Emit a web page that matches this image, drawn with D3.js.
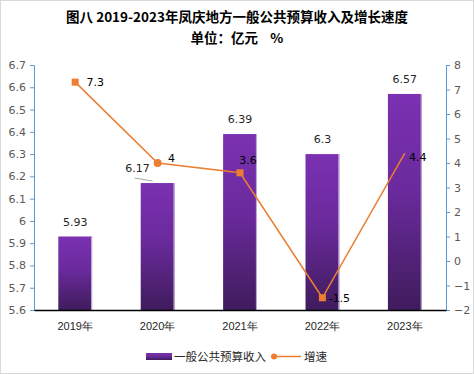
<!DOCTYPE html>
<html>
<head>
<meta charset="utf-8">
<script src="https://cdn.jsdelivr.net/npm/d3@7"></script>
<style>
  body { margin: 0; background: #fff; }
  svg { display: block; font-family: "Noto Sans CJK SC", "DejaVu Sans", sans-serif; }
</style>
</head>
<body>
<div id="chart"></div>
<script>
const years = ["2019年", "2020年", "2021年", "2022年", "2023年"];
const revenue = [5.93, 6.17, 6.39, 6.3, 6.57];
const growth = [7.3, 4, 3.6, -1.5, 4.4];
const leftTicks = [5.6, 5.7, 5.8, 5.9, 6, 6.1, 6.2, 6.3, 6.4, 6.5, 6.6, 6.7];
const rightTicks = [-2, -1, 0, 1, 2, 3, 4, 5, 6, 7, 8];
const markerShapes = ["square", "circle", "square", "square", null];

const W = 474, H = 374;
const margin = { top: 65, right: 28, bottom: 64, left: 34 };
const innerW = W - margin.left - margin.right;
const innerH = H - margin.top - margin.bottom;

const svg = d3.select("#chart").append("svg")
    .attr("width", W)
    .attr("height", H);

svg.append("rect")
    .attr("x", 0.5).attr("y", 0.5)
    .attr("width", W - 1).attr("height", H - 1)
    .attr("fill", "#fff")
    .attr("stroke", "#d9d9d9");

// title
svg.append("text")
    .attr("x", W / 2).attr("y", 22)
    .attr("text-anchor", "middle")
    .style("font-size", "13.5px").style("font-weight", "bold")
    .attr("fill", "#000")
    .text("图八 2019-2023年凤庆地方一般公共预算收入及增长速度");
svg.append("text")
    .attr("x", W / 2).attr("y", 43)
    .attr("text-anchor", "middle")
    .style("font-size", "13.5px").style("font-weight", "bold")
    .attr("fill", "#000")
    .attr("xml:space", "preserve")
    .text("单位：亿元    %");

const defs = svg.append("defs");
const grad = defs.append("linearGradient")
    .attr("id", "barGrad")
    .attr("x1", 0).attr("y1", 0).attr("x2", 0).attr("y2", 1);
grad.append("stop").attr("offset", "0%").attr("stop-color", "#7b31b2");
grad.append("stop").attr("offset", "45%").attr("stop-color", "#6a2a9c");
grad.append("stop").attr("offset", "100%").attr("stop-color", "#3f1c5c");

const g = svg.append("g")
    .attr("transform", `translate(${margin.left},${margin.top})`);

const x = d3.scaleBand().domain(years).range([0, innerW]).paddingInner(0.59).paddingOuter(0.295);
const xc = d => x(d) + x.bandwidth() / 2;
const yL = d3.scaleLinear().domain([5.6, 6.7]).range([innerH, 0]);
const yR = d3.scaleLinear().domain([-2, 8]).range([innerH, 0]);

// bars
g.selectAll("rect.bar")
    .data(revenue)
    .join("rect")
    .attr("class", "bar")
    .attr("x", (d, i) => x(years[i]))
    .attr("y", d => yL(d))
    .attr("width", x.bandwidth())
    .attr("height", d => innerH - yL(d))
    .attr("fill", "url(#barGrad)");

g.selectAll("line.edge")
    .data(revenue)
    .join("line")
    .attr("class", "edge")
    .attr("x1", (d, i) => x(years[i]) + x.bandwidth() - 0.5)
    .attr("x2", (d, i) => x(years[i]) + x.bandwidth() - 0.5)
    .attr("y1", d => yL(d))
    .attr("y2", innerH)
    .attr("stroke", "#c9b3dd")
    .attr("stroke-width", 1);

// bar labels
g.selectAll("text.barLabel")
    .data(revenue)
    .join("text")
    .attr("class", "barLabel")
    .attr("x", (d, i) => xc(years[i]) + (i === 1 ? -20 : 0))
    .attr("y", d => yL(d) - 11)
    .attr("text-anchor", "middle")
    .style("font-size", "11px")
    .style("font-family", "'DejaVu Sans', sans-serif")
    .attr("fill", "#262626")
    .text(d => d);

// leader line for 2020 label
g.append("line")
    .attr("x1", xc(years[1]) - 23).attr("y1", yL(revenue[1]) - 5)
    .attr("x2", xc(years[1]) - 5).attr("y2", yL(revenue[1]) - 2)
    .attr("stroke", "#a6a6a6").attr("stroke-width", 1);

// left axis
const axL = g.append("g")
    .call(d3.axisLeft(yL).tickValues(leftTicks).tickSize(4).tickFormat(d => d3.format("")(+d.toFixed(1))));
axL.select(".domain").attr("stroke", "#5b9bd5");
axL.selectAll(".tick line").attr("stroke", "#5b9bd5");
axL.selectAll(".tick text").attr("fill", "#595959").style("font-size", "11px")
    .style("font-family", "'DejaVu Sans', sans-serif").attr("x", -8);

// right axis
const axR = g.append("g")
    .attr("transform", `translate(${innerW},0)`)
    .call(d3.axisRight(yR).tickValues(rightTicks).tickSize(4));
axR.select(".domain").attr("stroke", "#5b9bd5");
axR.selectAll(".tick line").attr("stroke", "#5b9bd5");
axR.selectAll(".tick text").attr("fill", "#595959").style("font-size", "11px")
    .style("font-family", "'DejaVu Sans', sans-serif").attr("x", 8);

// bottom axis
const axB = g.append("g")
    .attr("transform", `translate(0,${innerH})`)
    .call(d3.axisBottom(x).tickSize(0));
axB.select(".domain").attr("stroke", "#000").attr("stroke-width", 1.5);
axB.selectAll(".tick text").attr("fill", "#262626").style("font-size", "11px").attr("dy", "1.5em");

// growth line
const line = d3.line().x((d, i) => xc(years[i])).y(d => yR(d));
g.append("path")
    .datum(growth)
    .attr("fill", "none")
    .attr("stroke", "#ed7d31")
    .attr("stroke-width", 1.5)
    .attr("d", line);

growth.forEach((v, i) => {
    const shape = markerShapes[i];
    if (!shape) return;
    if (shape === "square") {
        g.append("rect")
            .attr("x", xc(years[i]) - 3.5).attr("y", yR(v) - 3.5)
            .attr("width", 7).attr("height", 7)
            .attr("fill", "#ed7d31");
    } else {
        g.append("circle")
            .attr("cx", xc(years[i])).attr("cy", yR(v))
            .attr("r", 4).attr("fill", "#ed7d31");
    }
});

// growth labels
const gOff = [[20, 4], [14, -1], [8, -9], [17, 4], [13, 8]];
g.selectAll("text.gLabel")
    .data(growth)
    .join("text")
    .attr("class", "gLabel")
    .attr("x", (d, i) => xc(years[i]) + gOff[i][0])
    .attr("y", (d, i) => yR(d) + gOff[i][1])
    .attr("text-anchor", "middle")
    .style("font-size", "11px")
    .style("font-family", "'DejaVu Sans', sans-serif")
    .attr("fill", "#000")
    .text(d => d);

// legend
const lg = svg.append("g").attr("transform", "translate(146,353)");
lg.append("rect")
    .attr("x", 0).attr("y", 0).attr("width", 26).attr("height", 7)
    .attr("fill", "url(#barGrad)");
lg.append("text")
    .attr("x", 28).attr("y", 8)
    .style("font-size", "11.5px").attr("fill", "#262626")
    .text("一般公共预算收入");
lg.append("line")
    .attr("x1", 126).attr("x2", 155).attr("y1", 3.5).attr("y2", 3.5)
    .attr("stroke", "#ed7d31").attr("stroke-width", 1.5);
lg.append("circle")
    .attr("cx", 128).attr("cy", 3.5).attr("r", 3)
    .attr("fill", "#ed7d31");
lg.append("text")
    .attr("x", 158).attr("y", 8)
    .style("font-size", "11.5px").attr("fill", "#262626")
    .text("增速");
</script>
</body>
</html>
